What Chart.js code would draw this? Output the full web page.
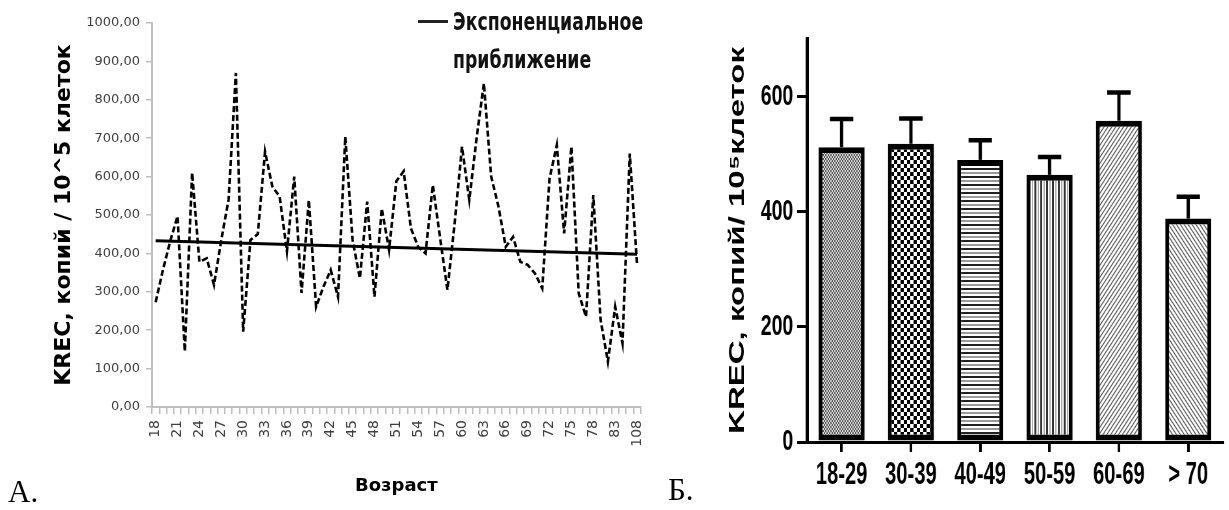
<!DOCTYPE html>
<html><head><meta charset="utf-8">
<script src="https://cdn.jsdelivr.net/npm/chart.js@4.4.1/dist/chart.umd.min.js"></script>
<style>
html,body{margin:0;padding:0;background:#fff;width:1229px;height:510px;overflow:hidden;position:relative}
#left{position:absolute;left:0;top:0;width:660px;height:510px}
#right{position:absolute;left:660px;top:0;width:875px;height:510px;transform:scaleX(0.65);transform-origin:0 0}
.panel{position:absolute;font-family:'Liberation Serif','DejaVu Serif',serif;font-size:31px;line-height:31px;color:#000}
#lgLine{position:absolute;left:418px;top:20px;width:30px;height:3px;background:#222}
#lgText{position:absolute;left:453px;top:3px;font-weight:bold;font-size:25px;line-height:38px;font-family:'Liberation Sans Narrow','DejaVu Sans Condensed',sans-serif;color:#111;white-space:nowrap;transform:scaleX(0.77);transform-origin:0 0}
</style></head>
<body>
<div id="left"><canvas id="cL" width="660" height="510"></canvas></div>
<div id="right"><canvas id="cR" width="875" height="510"></canvas></div>
<div id="lgLine"></div>
<div id="lgText">Экспоненциальное<br>приближение</div>
<div class="panel" style="left:8px;top:476px">А.</div>
<div class="panel" style="left:668px;top:474px">Б.</div>
<script>
// ---- Panel A data ----
const ages = [18,19,20,21,22,23,24,25,26,27,28,29,30,31,32,33,34,35,36,37,38,39,40,41,42,43,44,45,46,47,48,49,50,51,52,53,54,55,56,57,58,59,60,61,62,63,64,65,66,67,68,69,70,71,72,73,74,75,76,77,78,80,81,83,85,90,108];
const krecValues = [273,357,432,497,145,610,378,387,318,435,540,870,196,435,450,665,574,548,405,600,297,539,261,313,357,287,704,435,335,535,287,517,409,588,614,465,417,400,578,440,305,480,678,539,700,843,600,522,417,443,378,370,348,309,595,682,452,678,296,235,552,227,118,261,166,660,370];
const trendValues = [433, 398]; // first and last age
const yTicksA = [0,100,200,300,400,500,600,700,800,900,1000];

// ---- Panel B data ----
const groups = ['18-29','30-39','40-49','50-59','60-69','> 70'];
const barMeans = [512, 518, 490, 464, 558, 388];
const barErrors = [49, 44, 34, 31, 49, 38];
const yTicksB = [0,200,400,600];

const trendData = ages.map((_, i) => i === 0 ? trendValues[0] : (i === ages.length - 1 ? trendValues[1] : null));

new Chart(document.getElementById('cL'), {
  type: 'line',
  data: {
    labels: ages.map(String),
    datasets: [
      {data: krecValues, borderColor: '#000', borderWidth: 2.6, borderDash: [6, 3], pointRadius: 0, tension: 0, fill: false},
      {data: trendData, borderColor: '#000', borderWidth: 3, pointRadius: 0, spanGaps: true, fill: false}
    ]
  },
  options: {
    responsive: false, animation: false, events: [],
    layout: {padding: {left: 46, top: 23, right: 18, bottom: 0}},
    plugins: {legend: {display: false}, tooltip: {enabled: false}},
    scales: {
      x: {
        offset: true,
        grid: {offset: true, drawOnChartArea: false, tickLength: 7, color: '#bfbfbf', lineWidth: 1.5},
        border: {color: '#bfbfbf', width: 2},
        ticks: {autoSkip: false, minRotation: 90, maxRotation: 90, padding: 6, color: '#404040',
          font: {family: 'DejaVu Sans', size: 14},
          callback: (v, i) => i % 3 === 0 ? String(ages[i]) : ''},
        title: {display: true, text: 'Возраст', color: '#000', font: {family: 'DejaVu Sans', weight: 'bold', size: 18}, padding: {top: 0, bottom: 13}},
        afterFit: s => { s.height = 103; }
      },
      y: {
        min: yTicksA[0], max: yTicksA[yTicksA.length - 1],
        ticks: {stepSize: 100, padding: 6, color: '#404040', font: {family: 'DejaVu Sans', size: 13},
          callback: v => Number(v).toFixed(2).replace('.', ',')},
        grid: {drawOnChartArea: false, tickLength: 6, color: '#bfbfbf', lineWidth: 1.5},
        border: {color: '#bfbfbf', width: 2},
        title: {display: true, text: 'KREC, копий / 10^5 клеток', color: '#000', font: {family: 'DejaVu Sans', weight: 'bold', size: 22}, padding: {top: 5, bottom: 0}},
        afterFit: s => { s.width = 106; }
      }
    }
  }
});

// ---- patterns ----
function makePattern(w, h, draw) {
  const c = document.createElement('canvas');
  c.width = w; c.height = h;
  const g = c.getContext('2d');
  g.fillStyle = '#fff'; g.fillRect(0, 0, w, h);
  draw(g, w, h);
  return document.createElement('canvas').getContext('2d').createPattern(c, 'repeat');
}
const patterns = [
  makePattern(4, 4, g => { g.fillStyle = '#555'; g.fillRect(0,0,2,2); g.fillRect(2,2,2,2); g.fillStyle = '#ddd'; g.fillRect(2,0,2,2); g.fillRect(0,2,2,2); }),
  makePattern(10, 8, g => { g.fillStyle = '#000'; g.fillRect(0,0,5,4); g.fillRect(5,4,5,4); }),
  makePattern(8, 8, g => { g.fillStyle = '#222'; g.fillRect(0,0,8,2); g.fillStyle = '#999'; g.fillRect(0,4,8,2); }),
  makePattern(9, 8, g => { g.fillStyle = '#333'; g.fillRect(0,0,3,8); g.fillStyle = '#aaa'; g.fillRect(5,0,2,8); }),
  makePattern(6, 6, g => { g.strokeStyle = '#555'; g.lineWidth = 1.3; g.beginPath(); g.moveTo(-1,7); g.lineTo(7,-1); g.moveTo(-4,4); g.lineTo(4,-4); g.moveTo(2,10); g.lineTo(10,2); g.stroke(); }),
  makePattern(6, 6, g => { g.strokeStyle = '#555'; g.lineWidth = 1.3; g.beginPath(); g.moveTo(-1,-1); g.lineTo(7,7); g.moveTo(-4,2); g.lineTo(4,10); g.moveTo(2,-4); g.lineTo(10,4); g.stroke(); })
];

const errorBarPlugin = {
  id: 'errbars',
  afterDatasetsDraw(chart) {
    const {ctx, scales: {y}} = chart;
    const meta = chart.getDatasetMeta(0);
    ctx.save();
    ctx.strokeStyle = '#000';
    meta.data.forEach((bar, i) => {
      const xc = bar.x;
      const yTop = y.getPixelForValue(barMeans[i]);
      const yErr = y.getPixelForValue(barMeans[i] + barErrors[i]);
      ctx.lineWidth = 5;
      ctx.beginPath(); ctx.moveTo(xc, yTop); ctx.lineTo(xc, yErr); ctx.stroke();
      ctx.lineWidth = 4.5;
      ctx.beginPath(); ctx.moveTo(xc - 18, yErr); ctx.lineTo(xc + 18, yErr); ctx.stroke();
    });
    ctx.restore();
  }
};

new Chart(document.getElementById('cR'), {
  type: 'bar',
  data: {
    labels: groups,
    datasets: [{data: barMeans, backgroundColor: patterns, borderColor: '#000', borderWidth: 6, borderSkipped: false,
      barPercentage: 0.664, categoryPercentage: 1}]
  },
  plugins: [errorBarPlugin],
  options: {
    responsive: false, animation: false, events: [],
    layout: {padding: {left: 80, top: 39, right: 9, bottom: 0}},
    plugins: {legend: {display: false}, tooltip: {enabled: false}},
    scales: {
      x: {
        grid: {drawOnChartArea: false, tickLength: 10, color: '#000', lineWidth: 4, offset: false},
        border: {color: '#000', width: 3},
        ticks: {padding: 5, color: '#000', font: {family: 'Liberation Sans', weight: 'bold', size: 31}},
        afterFit: s => { s.height = 68; }
      },
      y: {
        min: 0, max: 700,
        afterBuildTicks: s => { s.ticks = yTicksB.map(v => ({value: v})); },
        ticks: {padding: 6, color: '#000', font: {family: 'Liberation Sans', weight: 'bold', size: 30}},
        grid: {drawOnChartArea: false, tickLength: 15, color: '#000', lineWidth: 3},
        border: {color: '#000', width: 5},
        title: {display: true, text: 'KREC, копий/ 10⁵клеток', color: '#000', font: {family: 'Liberation Sans', weight: 'bold', size: 33}, padding: {top: 20, bottom: 0}},
        afterFit: s => { s.width = 146; }
      }
    }
  }
});
</script>
</body></html>
